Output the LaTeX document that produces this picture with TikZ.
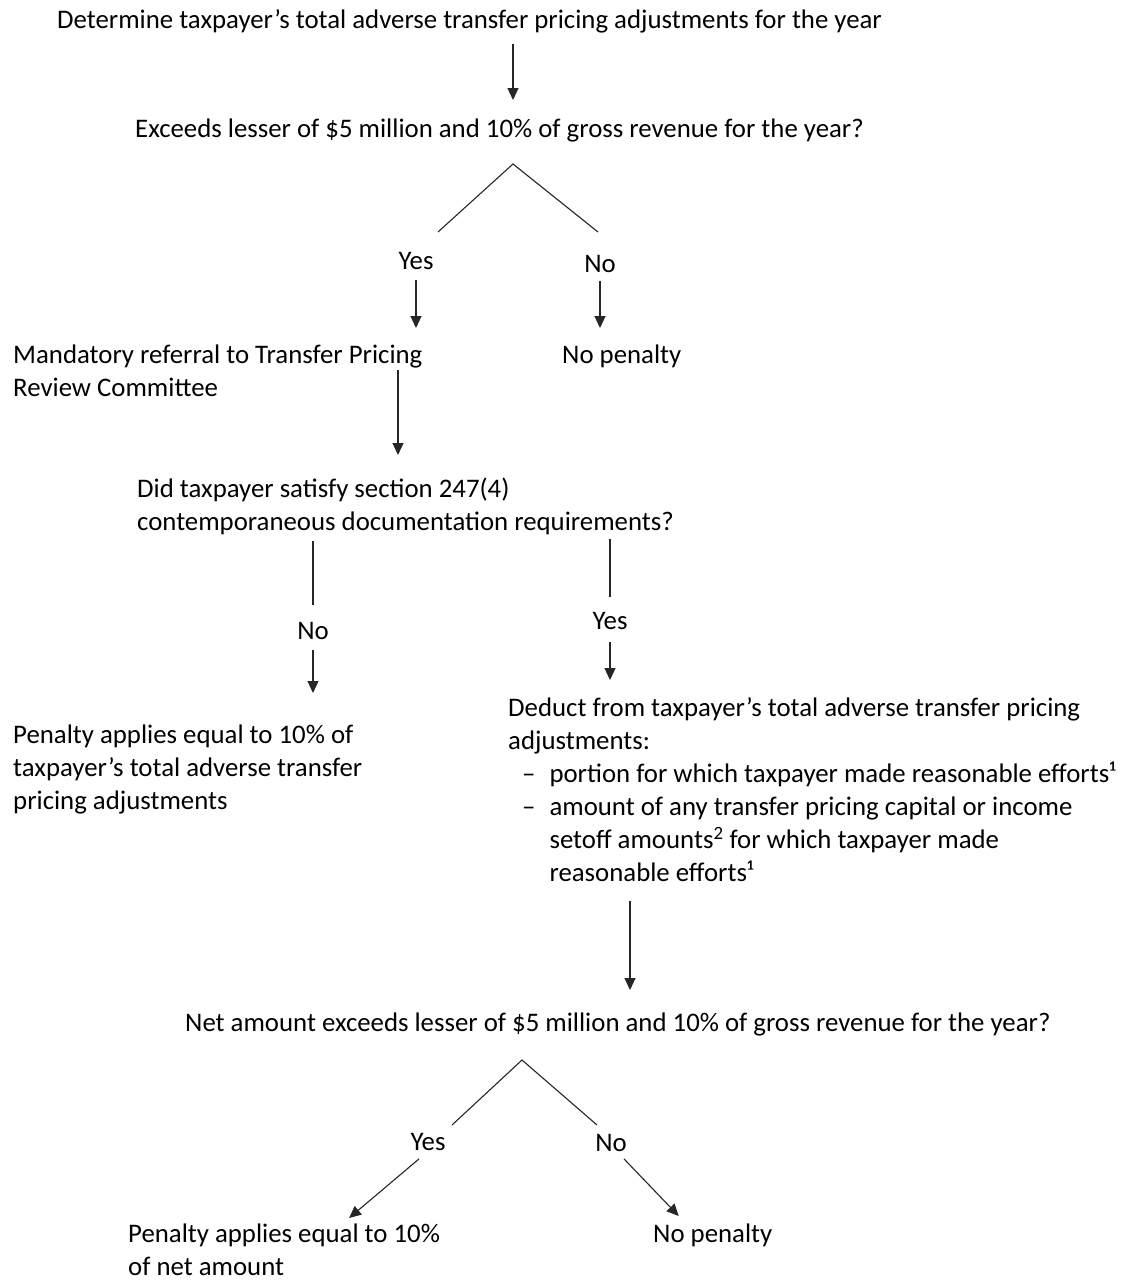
\documentclass[tikz,border=0pt]{standalone}
\usepackage{fontspec}
\setmainfont{Carlito}
\usetikzlibrary{arrows.meta,calc}
\tikzset{>={Triangle[length=12pt,width=11pt]}}

\begin{document}
\begin{tikzpicture}[x=1pt,y=-1pt,
  every node/.style={font=\fontsize{26.8}{33}\selectfont, inner sep=0pt},
  txt/.style={align=left, anchor=north west},
  lbl/.style={anchor=center},
  line/.style={draw=black!85, line width=1.1pt},
  arr/.style={line, ->}]
  \useasboundingbox (0,0) rectangle (1124,1282);

  \node[txt] (t1) at (57,9) {Determine taxpayer’s total adverse transfer pricing adjustments for the year};
  \node[txt] (t2) at (135,119) {Exceeds lesser of \$5 million and 10\% of gross revenue for the year?};
  \node[lbl] (yes1) at (416,261) {Yes};
  \node[lbl] (no1) at (600,264) {No};
  \node[txt] (mand) at (13,345) {Mandatory referral to Transfer Pricing\\Review Committee};
  \node[txt] (nopen1) at (562,345) {No penalty};
  \node[txt] (did) at (137,478) {Did taxpayer satisfy section 247(4)\\contemporaneous documentation requirements?};
  \node[lbl] (no2) at (313,631) {No};
  \node[lbl] (yes2) at (610,621) {Yes};
  \node[txt] (pen1) at (13,725) {Penalty applies equal to 10\% of\\taxpayer’s total adverse transfer\\pricing adjustments};
  \node[txt] (deduct) at (508,697) {Deduct from taxpayer’s total adverse transfer pricing\\adjustments:\\
    \begin{tabular}[t]{@{\hspace{14pt}}l@{\hspace{14pt}}l}
    – & portion for which taxpayer made reasonable efforts¹\\
    – & amount of any transfer pricing capital or income\\
      & setoff amounts\textsuperscript{2} for which taxpayer made\\
      & reasonable efforts¹
    \end{tabular}};
  \node[txt] (net) at (185,1013) {Net amount exceeds lesser of \$5 million and 10\% of gross revenue for the year?};
  \node[lbl] (yes3) at (428,1142) {Yes};
  \node[lbl] (no3) at (611,1143) {No};
  \node[txt] (pen2) at (128,1224) {Penalty applies equal to 10\%\\of net amount};
  \node[txt] (nopen2) at (653,1224) {No penalty};

  \coordinate (v1) at (513,164);
  \coordinate (v1l) at (438,232);
  \coordinate (v1r) at (598,232);
  \coordinate (v2) at (522,1060);
  \coordinate (v2l) at (452,1125);
  \coordinate (v2r) at (597,1125);

  \draw[arr, shorten <=11pt, shorten >=19pt] (t1.south -| v1) -- (t2.north -| v1);
  \draw[line] (v1l) -- (v1) -- (v1r);
  \draw[arr, shorten <=10pt, shorten >=17pt] (yes1.south) -- (yes1.south |- mand.north);
  \draw[arr, shorten <=8pt, shorten >=17pt] (no1.south) -- (no1.south |- nopen1.north);
  \draw[arr, shorten <=25pt, shorten >=23pt] ([xshift=261pt]did.north west |- mand.north) -- ([xshift=261pt]did.north west);
  \draw[line, shorten <=6pt, shorten >=17pt] (did.south -| no2) -- (no2.north);
  \draw[arr, shorten <=10pt, shorten >=32pt] (no2.south) -- (no2.south |- pen1.north);
  \draw[line, shorten <=4pt, shorten >=15pt] (did.south -| yes2) -- (yes2.north);
  \draw[arr, shorten <=12pt, shorten >=17pt] (yes2.south) -- (yes2.south |- deduct.north);
  \draw[arr, shorten <=10pt, shorten >=23pt] ([xshift=445pt]net.north west |- deduct.south) -- ([xshift=445pt]net.north west);
  \draw[line] (v2l) -- (v2) -- (v2r);
  \draw[arr] ([shift={(-9,8)}]yes3.south) -- ([shift={(65,-6)}]pen2.north);
  \draw[arr] ([shift={(13,7)}]no3.south) -- ([shift={(-34,-8)}]nopen2.north);
\end{tikzpicture}
\end{document}
